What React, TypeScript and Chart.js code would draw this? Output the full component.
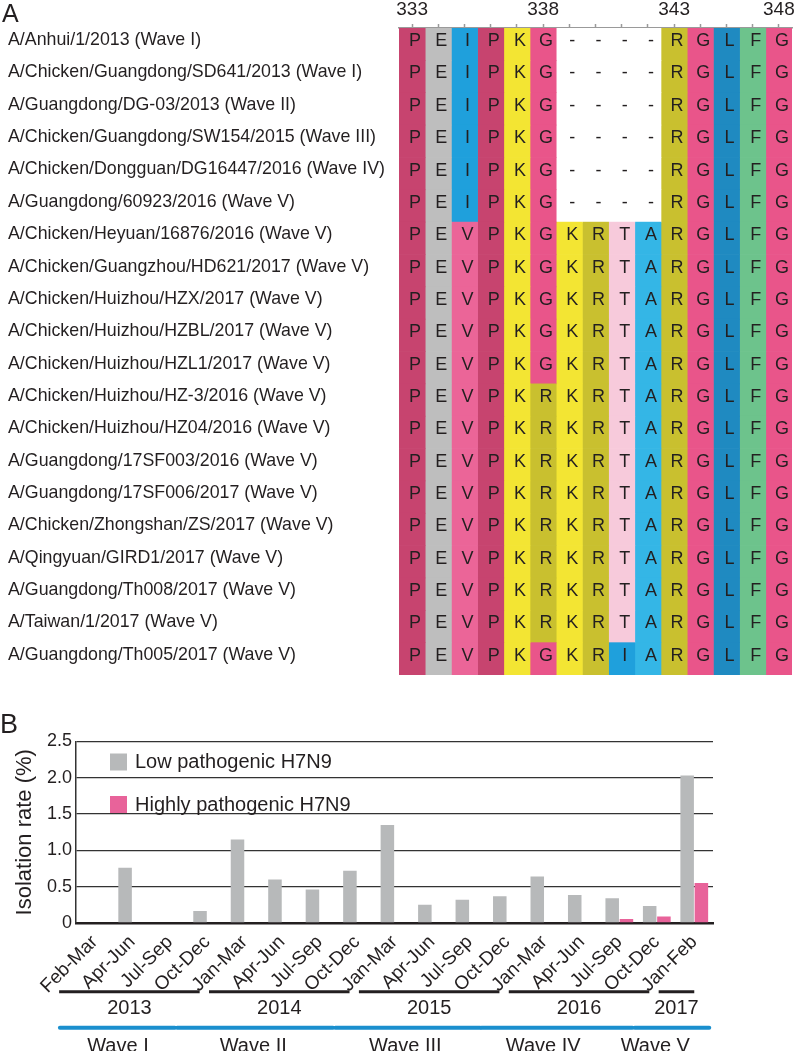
import React, { useEffect, useRef } from 'react';
import { Chart, registerables } from 'chart.js';

Chart.register(...registerables);

const FONT = '"Liberation Sans", Arial, Helvetica, sans-serif';
const INK = '#231f20';

// ---------- Panel A data ----------
const strains = [
  'A/Anhui/1/2013 (Wave I)',
  'A/Chicken/Guangdong/SD641/2013 (Wave I)',
  'A/Guangdong/DG-03/2013 (Wave II)',
  'A/Chicken/Guangdong/SW154/2015 (Wave III)',
  'A/Chicken/Dongguan/DG16447/2016 (Wave IV)',
  'A/Guangdong/60923/2016 (Wave V)',
  'A/Chicken/Heyuan/16876/2016 (Wave V)',
  'A/Chicken/Guangzhou/HD621/2017 (Wave V)',
  'A/Chicken/Huizhou/HZX/2017 (Wave V)',
  'A/Chicken/Huizhou/HZBL/2017 (Wave V)',
  'A/Chicken/Huizhou/HZL1/2017 (Wave V)',
  'A/Chicken/Huizhou/HZ-3/2016 (Wave V)',
  'A/Chicken/Huizhou/HZ04/2016 (Wave V)',
  'A/Guangdong/17SF003/2016 (Wave V)',
  'A/Guangdong/17SF006/2017 (Wave V)',
  'A/Chicken/Zhongshan/ZS/2017 (Wave V)',
  'A/Qingyuan/GIRD1/2017 (Wave V)',
  'A/Guangdong/Th008/2017 (Wave V)',
  'A/Taiwan/1/2017 (Wave V)',
  'A/Guangdong/Th005/2017 (Wave V)',
];

const sequences = [
  'PEIPKG----RGLFG',
  'PEIPKG----RGLFG',
  'PEIPKG----RGLFG',
  'PEIPKG----RGLFG',
  'PEIPKG----RGLFG',
  'PEIPKG----RGLFG',
  'PEVPKGKRTARGLFG',
  'PEVPKGKRTARGLFG',
  'PEVPKGKRTARGLFG',
  'PEVPKGKRTARGLFG',
  'PEVPKGKRTARGLFG',
  'PEVPKRKRTARGLFG',
  'PEVPKRKRTARGLFG',
  'PEVPKRKRTARGLFG',
  'PEVPKRKRTARGLFG',
  'PEVPKRKRTARGLFG',
  'PEVPKRKRTARGLFG',
  'PEVPKRKRTARGLFG',
  'PEVPKRKRTARGLFG',
  'PEVPKGKRIARGLFG',
];

const residueColors: Record<string, string> = {
  P: '#c7446f',
  E: '#bebebe',
  I: '#1fa0dc',
  V: '#eb6598',
  K: '#f3e533',
  G: '#e9558a',
  R: '#c9c02f',
  T: '#f7cadb',
  A: '#34b6e6',
  L: '#1f8ac1',
  F: '#6dc38c',
  '-': '#ffffff',
};

const columnCount = 15;
const topTickIndex = [0, 5, 10, 14];
const topTickText = ['333', '338', '343', '348'];

// ---------- Panel B data ----------
const periods = [
  'Feb-Mar', 'Apr-Jun', 'Jul-Sep', 'Oct-Dec',
  'Jan-Mar', 'Apr-Jun', 'Jul-Sep', 'Oct-Dec',
  'Jan-Mar', 'Apr-Jun', 'Jul-Sep', 'Oct-Dec',
  'Jan-Mar', 'Apr-Jun', 'Jul-Sep', 'Oct-Dec',
  'Jan-Feb',
];
const lowPathogenic = [null, 0.76, null, 0.165, 1.15, 0.6, 0.46, 0.72, 1.35, 0.25, 0.32, 0.37, 0.64, 0.385, 0.34, 0.235, 2.03];
const highPathogenic = [null, null, null, null, null, null, null, null, null, null, null, null, null, null, 0.055, 0.09, 0.55];
const seriesNames = ['Low pathogenic H7N9', 'Highly pathogenic H7N9'];
const seriesColors = ['#b7b9ba', '#e8639a'];
const yTicks = [0, 0.5, 1.0, 1.5, 2.0, 2.5];

const years = ['2013', '2014', '2015', '2016', '2017'];
const yearFrom = [-0.95, 3.05, 7.05, 11.05, 15.05];
const yearTo = [2.8, 6.8, 10.8, 14.8, 16.0];
const waves = ['Wave I', 'Wave II', 'Wave III', 'Wave IV', 'Wave V'];
const waveFrom = [-0.93, 2.2, 6.42, 10.32, 14.41];
const waveTo = [2.14, 6.36, 10.29, 14.35, 16.4];
const waveLabelAt = [0.62, 4.23, 8.29, 11.97, 14.96];

// ---------- Panel A chart ----------
function AlignmentChart() {
  const ref = useRef<HTMLCanvasElement>(null);
  useEffect(() => {
    const columns = Array.from({ length: columnCount }, (_, c) => c);
    const datasets = columns.map((c) => ({
      label: 'col' + c,
      data: sequences.map(() => [c - 0.5, c + 0.5]),
      backgroundColor: sequences.map((s) => residueColors[s[c]]),
      borderWidth: 0,
      grouped: false,
      barPercentage: 1,
      categoryPercentage: 1,
    }));

    const letters = {
      id: 'letters',
      afterDatasetsDraw(chart: any) {
        const ctx = chart.ctx;
        ctx.save();
        ctx.font = '18px ' + FONT;
        ctx.fillStyle = INK;
        ctx.textAlign = 'center';
        ctx.textBaseline = 'middle';
        chart.data.datasets.forEach((_: any, di: number) => {
          const meta = chart.getDatasetMeta(di);
          meta.data.forEach((el: any, ri: number) => {
            const p = el.getCenterPoint();
            ctx.fillText(sequences[ri][di], p.x + 3, p.y - 3);
          });
        });
        ctx.font = '25px ' + FONT;
        ctx.textAlign = 'left';
        ctx.textBaseline = 'alphabetic';
        ctx.fillText('A', 2, 22);
        ctx.restore();
      },
    };

    const chart = new Chart(ref.current!, {
      type: 'bar',
      data: { labels: strains, datasets: datasets as any },
      options: {
        indexAxis: 'y',
        animation: false,
        responsive: false,
        devicePixelRatio: 1,
        layout: { padding: { left: 8, right: 8, top: 0, bottom: 15 } },
        plugins: { legend: { display: false }, tooltip: { enabled: false } },
        scales: {
          x: {
            type: 'linear',
            position: 'top',
            min: -0.5,
            max: columnCount - 0.5,
            afterBuildTicks: (axis: any) => {
              axis.ticks = columns.map((v) => ({ value: v }));
            },
            afterFit: (axis: any) => {
              axis.height = 28;
            },
            grid: { drawOnChartArea: false, drawTicks: true, tickLength: 4, tickColor: '#9a9a9a', tickWidth: 1.5 },
            border: { display: true, color: '#9a9a9a', width: 1.5 },
            ticks: {
              autoSkip: false,
              maxRotation: 0,
              padding: 3,
              color: INK,
              font: { size: 19, family: FONT },
              callback: (value: any) => {
                const i = topTickIndex.indexOf(Number(value));
                return i >= 0 ? topTickText[i] : '';
              },
            },
          },
          y: {
            type: 'category',
            position: 'left',
            afterFit: (axis: any) => {
              axis.width = 391;
            },
            grid: { display: false },
            border: { display: false },
            ticks: {
              autoSkip: false,
              crossAlign: 'far',
              labelOffset: -4,
              color: INK,
              font: { size: 17.8, family: FONT },
            },
          },
        },
      },
      plugins: [letters],
    } as any);
    return () => chart.destroy();
  }, []);
  return (
    <canvas
      ref={ref}
      width={800}
      height={690}
      style={{ position: 'absolute', left: 0, top: 0, width: 800, height: 690 }}
    />
  );
}

// ---------- Panel B chart ----------
function IsolationChart() {
  const ref = useRef<HTMLCanvasElement>(null);
  useEffect(() => {
    const extras = {
      id: 'extras',
      afterDraw(chart: any) {
        const ctx = chart.ctx;
        const area = chart.chartArea;
        const xs = chart.scales.x;
        ctx.save();
        // panel letter
        ctx.fillStyle = INK;
        ctx.font = '27px ' + FONT;
        ctx.textAlign = 'left';
        ctx.textBaseline = 'alphabetic';
        ctx.fillText('B', 0, 43);

        // legend
        ctx.font = '20px ' + FONT;
        ctx.textBaseline = 'middle';
        chart.data.datasets.forEach((ds: any, i: number) => {
          const sx = area.left + 34;
          const sy = area.top + 12 + i * 42.5;
          ctx.fillStyle = ds.backgroundColor;
          ctx.fillRect(sx, sy, 17, 17);
          ctx.fillStyle = INK;
          ctx.fillText(ds.label, sx + 25, sy + 9);
        });

        // year brackets
        ctx.strokeStyle = INK;
        ctx.lineWidth = 3;
        ctx.lineCap = 'butt';
        ctx.font = '20px ' + FONT;
        ctx.textAlign = 'center';
        ctx.textBaseline = 'alphabetic';
        years.forEach((yr, i) => {
          const x0 = xs.getPixelForValue(yearFrom[i]);
          const x1 = xs.getPixelForValue(yearTo[i]);
          const y = area.bottom + 68.7;
          ctx.beginPath();
          ctx.moveTo(x0, y);
          ctx.lineTo(x1, y);
          ctx.stroke();
          ctx.fillText(yr, (x0 + x1) / 2, area.bottom + 91);
        });

        // wave bars
        ctx.strokeStyle = '#1a8fce';
        ctx.lineWidth = 4;
        ctx.lineCap = 'round';
        waves.forEach((w, i) => {
          const x0 = xs.getPixelForValue(waveFrom[i]);
          const x1 = xs.getPixelForValue(waveTo[i]);
          const y = area.bottom + 104.7;
          ctx.beginPath();
          ctx.moveTo(x0, y);
          ctx.lineTo(x1, y);
          ctx.stroke();
          ctx.fillText(w, xs.getPixelForValue(waveLabelAt[i]), area.bottom + 129);
        });
        ctx.restore();
      },
    };

    const chart = new Chart(ref.current!, {
      type: 'bar',
      data: {
        labels: periods,
        datasets: [
          {
            label: seriesNames[0],
            data: lowPathogenic,
            backgroundColor: seriesColors[0],
            borderWidth: 0,
            barPercentage: 0.95,
            categoryPercentage: 0.76,
          },
          {
            label: seriesNames[1],
            data: highPathogenic,
            backgroundColor: seriesColors[1],
            borderWidth: 0,
            barPercentage: 0.95,
            categoryPercentage: 0.76,
          },
        ],
      },
      options: {
        animation: false,
        responsive: false,
        devicePixelRatio: 1,
        layout: { padding: { left: 0, right: 87, top: 51.5, bottom: 0 } },
        plugins: { legend: { display: false }, tooltip: { enabled: false } },
        scales: {
          x: {
            type: 'category',
            afterFit: (axis: any) => {
              axis.height = 128;
            },
            grid: { display: false },
            border: { display: true, color: INK, width: 2.5 },
            ticks: {
              autoSkip: false,
              minRotation: 45,
              maxRotation: 45,
              padding: 0,
              color: INK,
              font: { size: 19, family: FONT },
            },
          },
          y: {
            type: 'linear',
            min: 0,
            max: 2.5,
            afterFit: (axis: any) => {
              axis.width = 76;
            },
            afterBuildTicks: (axis: any) => {
              axis.ticks = yTicks.map((v) => ({ value: v }));
            },
            grid: { color: '#333333', lineWidth: 1.3, drawTicks: false },
            border: { display: true, color: '#333333', width: 1.5 },
            title: {
              display: true,
              text: 'Isolation rate (%)',
              color: INK,
              font: { size: 22, family: FONT },
              padding: { top: 12, bottom: 0 },
            },
            ticks: {
              padding: 4,
              color: INK,
              font: { size: 18, family: FONT },
              callback: (v: any) => (Number(v) === 0 ? '0' : Number(v).toFixed(1)),
            },
          },
        },
      },
      plugins: [extras],
    } as any);
    return () => chart.destroy();
  }, []);
  return (
    <canvas
      ref={ref}
      width={800}
      height={361}
      style={{ position: 'absolute', left: 0, top: 690, width: 800, height: 361 }}
    />
  );
}

export default function App() {
  return (
    <div style={{ position: 'absolute', left: 0, top: 0, width: 800, height: 1051, background: '#ffffff', overflow: 'hidden' }}>
      <AlignmentChart />
      <IsolationChart />
    </div>
  );
}
